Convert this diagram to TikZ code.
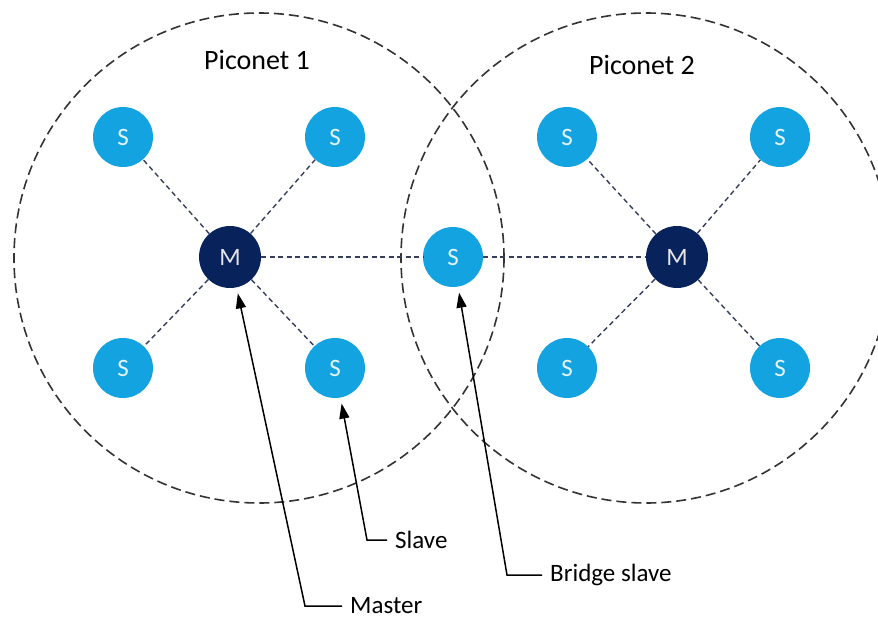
\documentclass[tikz,border=0pt]{standalone}
\usepackage{fontspec}
\setmainfont{Carlito}
\usetikzlibrary{arrows.meta}
\definecolor{slaveblue}{RGB}{20,163,225}
\definecolor{masterblue}{RGB}{8,34,92}
\definecolor{linkgray}{RGB}{55,62,90}
\begin{document}
\begin{tikzpicture}[x=1pt, y=-1pt,
   piconet/.style={draw=black!80, line width=1.6pt, dash pattern=on 10pt off 5pt},
   slave/.style={circle, fill=slaveblue, minimum size=60pt, inner sep=0pt,
                 text=white!88!slaveblue, font=\fontsize{25}{28}\selectfont},
   master/.style={slave, fill=masterblue, minimum size=62pt, text=white!90!black},
   link/.style={draw=linkgray, line width=1.4pt, dash pattern=on 5pt off 3.5pt},
   pointer/.style={draw=black, line width=1.5pt, -{Triangle[length=15pt,width=10pt]},
                   shorten >=6pt},
   note/.style={anchor=west, inner xsep=8pt, font=\fontsize{25}{28}\selectfont},
   title/.style={font=\fontsize{28}{32}\selectfont}]

\clip (0,0) rectangle (878,620);

% the two piconets
\draw[piconet] (259,258) circle (245pt);
\draw[piconet] (646,258) circle (245pt);
\node[title] (pico1) at (257,60) {Piconet 1};
\node[title] (pico2) at (642,65) {Piconet 2};

% piconet 1
\node[master] (m1) at (230,257) {M};
\node[slave] (s11) at (123,137) {S};
\node[slave] (s12) at (335,137) {S};
\node[slave] (s13) at (123,368) {S};
\node[slave] (s14) at (335,368) {S};

% bridge
\node[slave] (bs) at (453,257) {S};

% piconet 2
\node[master] (m2) at (677,257) {M};
\node[slave] (s21) at (567,137) {S};
\node[slave] (s22) at (780,137) {S};
\node[slave] (s23) at (567,368) {S};
\node[slave] (s24) at (780,368) {S};

\draw[link] (m1) -- (s11);
\draw[link] (m1) -- (s12);
\draw[link] (m1) -- (s13);
\draw[link] (m1) -- (s14);
\draw[link] (m1) -- (bs);
\draw[link] (bs) -- (m2);
\draw[link] (m2) -- (s21);
\draw[link] (m2) -- (s22);
\draw[link] (m2) -- (s23);
\draw[link] (m2) -- (s24);

% callouts
\node[note] (lslave) at (387,540) {Slave};
\node[note] (lbridge) at (542,575) {Bridge slave};
\node[note] (lmaster) at (342,606) {Master};
\coordinate (cslave) at (367,540);
\coordinate (cbridge) at (507,575);
\coordinate (cmaster) at (305,606);

\draw[pointer] (lslave.west) -- (cslave) -- (s14);
\draw[pointer] (lbridge.west) -- (cbridge) -- (bs);
\draw[pointer] (lmaster.west) -- (cmaster) -- (m1);

\end{tikzpicture}
\end{document}
